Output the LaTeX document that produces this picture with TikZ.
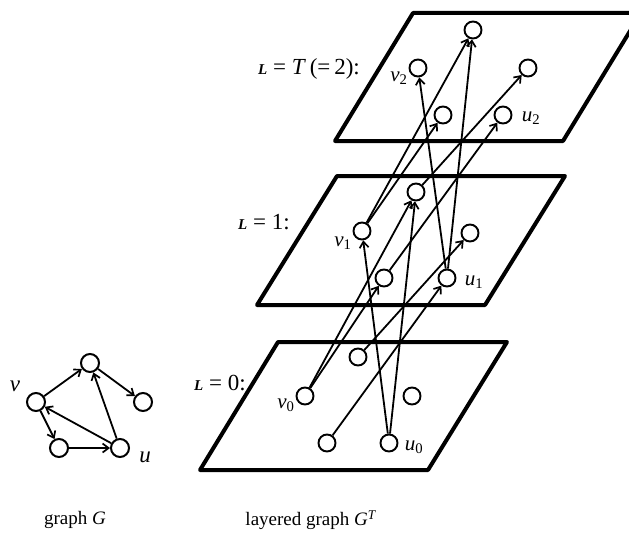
\documentclass[tikz,border=0pt]{standalone}
\usepackage{fontspec}
\setmainfont{Liberation Serif}
\usetikzlibrary{arrows.meta}
\tikzset{
  vtx/.style={circle,draw,minimum size=17pt,inner sep=0pt,line width=1.9pt},
  gvtx/.style={circle,draw,minimum size=18pt,inner sep=0pt,line width=2pt},
  edge/.style={line width=1.8pt,-{Straight Barb[length=6pt,width=9pt,line width=1.7pt]}},
  plane/.style={line width=4pt,line join=round,line cap=round},
  lbl/.style={font=\fontsize{21}{22}\selectfont,inner sep=0pt},
  lay/.style={font=\fontsize{23}{24}\selectfont,inner sep=0pt,anchor=west}
}
\newcommand{\Lsym}{{\fontsize{15}{16}\selectfont\bfseries\itshape L}}
\begin{document}
\begin{tikzpicture}[x=1pt,y=-1pt]
\clip (0,0) rectangle (629,535);
\fill[white] (0,0) rectangle (629,535);
% planes
\draw[plane] (335,141) -- (563,141) -- (641,13) -- (413,13) -- cycle;
\draw[plane] (257,305) -- (485,305) -- (565,176) -- (337,176) -- cycle;
\draw[plane] (200,470) -- (428,470) -- (507,342) -- (278,342) -- cycle;
% layer labels
\node[lay] (l2) at (258,69) {\Lsym\ = \textit{T}\,(=\,2):};
\node[lay] (l1) at (238,222) {\Lsym\ = 1:};
\node[lay] (l0) at (194,383) {\Lsym\ = 0:};
% layer 2
\node[vtx] (a2) at (473,30) {};
\node[vtx] (v2) at (418,68) {};
\node[vtx] (c2) at (528,68) {};
\node[vtx] (d2) at (443,115) {};
\node[vtx] (u2) at (503,115) {};
% layer 1
\node[vtx] (a1) at (416,192) {};
\node[vtx] (v1) at (362,231) {};
\node[vtx] (c1) at (470,233) {};
\node[vtx] (d1) at (384,278) {};
\node[vtx] (u1) at (447,278) {};
% layer 0
\node[vtx] (a0) at (358,357) {};
\node[vtx] (v0) at (305,396) {};
\node[vtx] (c0) at (412,396) {};
\node[vtx] (d0) at (327,443) {};
\node[vtx] (u0) at (389,443) {};
% vertex labels
\node[lbl] (tv2) at (399,78) {\textit{v}\textsubscript{2}};
\node[lbl] (tu2) at (531,118) {\textit{u}\textsubscript{2}};
\node[lbl] (tv1) at (343,243) {\textit{v}\textsubscript{1}};
\node[lbl] (tu1) at (474,282) {\textit{u}\textsubscript{1}};
\node[lbl] (tv0) at (286,405) {\textit{v}\textsubscript{0}};
\node[lbl] (tu0) at (414,447) {\textit{u}\textsubscript{0}};
% edges 0 -> 1
\draw[edge] (v0) -- (a1);
\draw[edge] (v0) -- (d1);
\draw[edge] (d0) -- (u1);
\draw[edge] (u0) -- (v1);
\draw[edge] (u0) -- (a1);
\draw[edge] (a0) -- (c1);
% edges 1 -> 2
\draw[edge] (v1) -- (a2);
\draw[edge] (v1) -- (d2);
\draw[edge] (d1) -- (u2);
\draw[edge] (u1) -- (v2);
\draw[edge] (u1) -- (a2);
\draw[edge] (a1) -- (c2);
% graph G
\node[gvtx] (ga) at (90,363) {};
\node[gvtx] (gv) at (36,402) {};
\node[gvtx] (gc) at (143,402) {};
\node[gvtx] (gd) at (59,448) {};
\node[gvtx] (gu) at (120,448) {};
\node[lbl,font=\fontsize{23}{24}\selectfont] (tgv) at (15,386) {\textit{v}};
\node[lbl,font=\fontsize{23}{24}\selectfont] (tgu) at (145,457) {\textit{u}};
\draw[edge] (gv) -- (ga);
\draw[edge] (ga) -- (gc);
\draw[edge] (gv) -- (gd);
\draw[edge] (gd) -- (gu);
\draw[edge] (gu) -- (gv);
\draw[edge] (gu) -- (ga);
% captions
\node[lbl,font=\fontsize{19}{20}\selectfont] (capG) at (75,520) {graph \textit{G}};
\node[lbl,font=\fontsize{19}{20}\selectfont] (capL) at (311,520) {layered graph \textit{G}\textsuperscript{\textit{T}}};
\end{tikzpicture}
\end{document}
